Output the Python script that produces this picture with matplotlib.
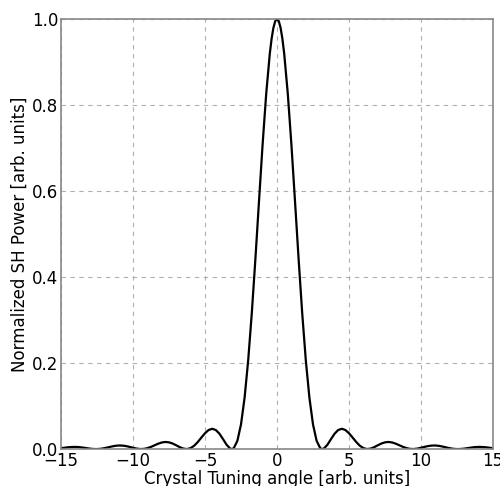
import matplotlib
matplotlib.use("Agg")
import matplotlib.pyplot as plt

angle = [
    -15.0, -14.75, -14.5, -14.25, -14.0, -13.75, -13.5, -13.25, -13.0, -12.75,
    -12.5, -12.25, -12.0, -11.75, -11.5, -11.25, -11.0, -10.75, -10.5, -10.25,
    -10.0, -9.75, -9.5, -9.25, -9.0, -8.75, -8.5, -8.25, -8.0, -7.75,
    -7.5, -7.25, -7.0, -6.75, -6.5, -6.25, -6.0, -5.75, -5.5, -5.25,
    -5.0, -4.75, -4.5, -4.25, -4.0, -3.75, -3.5, -3.25, -3.125, -3.0, -2.75,
    -2.5, -2.25, -2.0, -1.75, -1.5, -1.25, -1.0, -0.75, -0.5, -0.375, -0.25, -0.125,
    0.0,
    0.125, 0.25, 0.375, 0.5, 0.75, 1.0, 1.25, 1.5, 1.75, 2.0, 2.25, 2.5,
    2.75, 3.0, 3.125, 3.25, 3.5, 3.75, 4.0, 4.25, 4.5, 4.75, 5.0,
    5.25, 5.5, 5.75, 6.0, 6.25, 6.5, 6.75, 7.0, 7.25, 7.5,
    7.75, 8.0, 8.25, 8.5, 8.75, 9.0, 9.25, 9.5, 9.75, 10.0,
    10.25, 10.5, 10.75, 11.0, 11.25, 11.5, 11.75, 12.0, 12.25, 12.5,
    12.75, 13.0, 13.25, 13.5, 13.75, 14.0, 14.25, 14.5, 14.75, 15.0,
]
power = [
    0.0019, 0.0031, 0.0042, 0.0048, 0.0050, 0.0046, 0.0035, 0.0023, 0.0010, 0.0002,
    0.0000, 0.0006, 0.0020, 0.0038, 0.0058, 0.0074, 0.0083, 0.0081, 0.0070, 0.0052,
    0.0030, 0.0011, 0.0001, 0.0004, 0.0021, 0.0051, 0.0088, 0.0125, 0.0153, 0.0165,
    0.0156, 0.0129, 0.0088, 0.0044, 0.0011, 0.0000, 0.0022, 0.0078, 0.0165, 0.0268,
    0.0368, 0.0443, 0.0472, 0.0443, 0.0358, 0.0232, 0.0100, 0.0011, 0.0000, 0.0022, 0.0193,
    0.0573, 0.1196, 0.2067, 0.3162, 0.4422, 0.5764, 0.7081, 0.8260, 0.9194, 0.9540, 0.9793, 0.9948,
    1.0000,
    0.9948, 0.9793, 0.9540, 0.9194, 0.8260, 0.7081, 0.5764, 0.4422, 0.3162, 0.2067, 0.1196, 0.0573,
    0.0193, 0.0022, 0.0000, 0.0011, 0.0100, 0.0232, 0.0358, 0.0443, 0.0472, 0.0443, 0.0368,
    0.0268, 0.0165, 0.0078, 0.0022, 0.0000, 0.0011, 0.0044, 0.0088, 0.0129, 0.0156,
    0.0165, 0.0153, 0.0125, 0.0088, 0.0051, 0.0021, 0.0004, 0.0001, 0.0011, 0.0030,
    0.0052, 0.0070, 0.0081, 0.0083, 0.0074, 0.0058, 0.0038, 0.0020, 0.0006, 0.0000,
    0.0002, 0.0010, 0.0023, 0.0035, 0.0046, 0.0050, 0.0048, 0.0042, 0.0031, 0.0019,
]
xticks = [-15, -10, -5, 0, 5, 10, 15]
yticks = [0.0, 0.2, 0.4, 0.6, 0.8, 1.0]

plt.rcParams['font.family'] = ['DejaVu Sans']
fig = plt.figure(figsize=(5, 4.86), dpi=100)
ax = fig.add_axes([0.122, 0.076, 0.864, 0.885])
ax.plot(angle, power, color='black', lw=1.6, solid_joinstyle='round')
ax.set_xlim(-15, 15)
ax.set_ylim(0, 1)
ax.set_xticks(xticks)
ax.set_yticks(yticks)
ax.set_yticklabels([f"{v:.1f}" for v in yticks])
ax.tick_params(length=0, labelsize=12, pad=2)
ax.grid(True, ls=(0, (4, 4)), color='#b0b0b0', lw=0.8)
for s in ax.spines.values():
    s.set_color('#888888')
    s.set_linewidth(1.2)
ax.set_xlabel('Crystal Tuning angle [arb. units]', fontsize=12, labelpad=0)
ax.set_ylabel('Normalized SH Power [arb. units]', fontsize=12, labelpad=2)
fig.savefig('out.png', dpi=100)
